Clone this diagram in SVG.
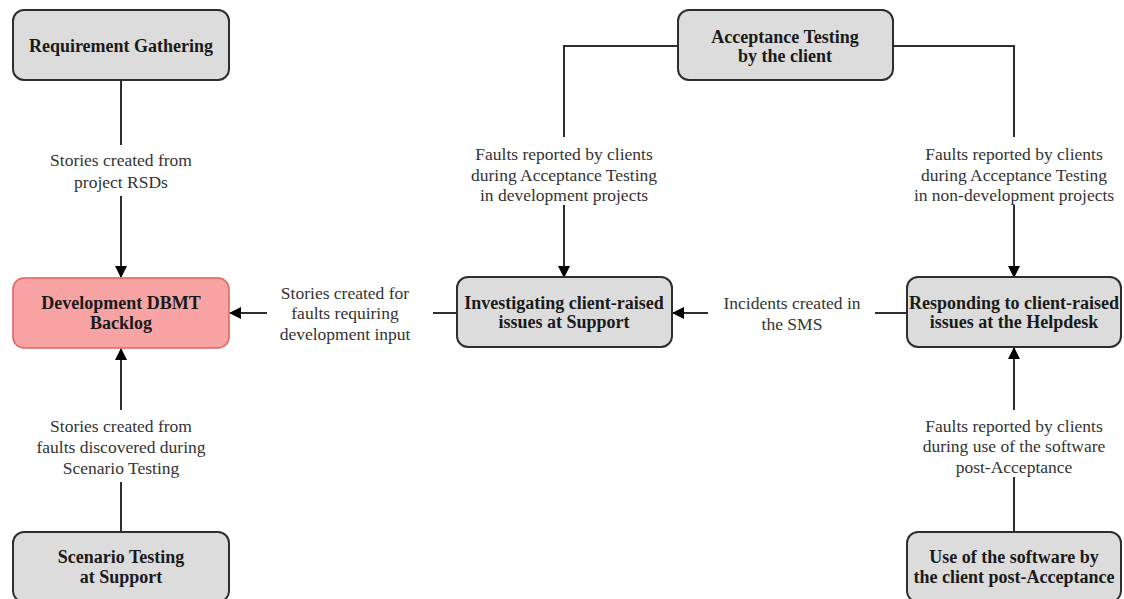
<svg xmlns="http://www.w3.org/2000/svg" width="1124" height="599" viewBox="0 0 1124 599">
<defs>
<marker id="arr" viewBox="0 0 12 12" refX="11" refY="6" markerWidth="12" markerHeight="12" markerUnits="userSpaceOnUse" orient="auto">
<path d="M0,0 L12,6 L0,12 Z" fill="#000"/>
</marker>
<style>
.box{fill:#dcdcdc;stroke:#2e2e2e;stroke-width:2}
.red{fill:#f7a3a3;stroke:#e06262;stroke-width:1.5}
.nt{font-family:"Liberation Serif",serif;font-weight:bold;font-size:18px;fill:#1a1a1a;text-anchor:middle}
.lt{font-family:"Liberation Serif",serif;font-size:17.5px;fill:#333;text-anchor:middle}
.c{fill:none;stroke:#2e2e2e;stroke-width:2}
.ca{fill:none;stroke:#2e2e2e;stroke-width:2;marker-end:url(#arr)}
</style>
</defs>
<g id="connectors">
<path class="c" d="M121,81 V145"/>
<path class="ca" d="M121,196 V277"/>
<path class="c" d="M121,532 V482"/>
<path class="ca" d="M121,410 V349"/>
<path class="c" d="M457,313 H433"/>
<path class="ca" d="M267,313 H230"/>
<path class="c" d="M907,313 H875"/>
<path class="ca" d="M708,313 H673"/>
<path class="c" d="M678,46 H564 V137"/>
<path class="ca" d="M564,205 V277"/>
<path class="c" d="M893,46 H1014 V137"/>
<path class="ca" d="M1014,205 V277"/>
<path class="c" d="M1014,532 V477"/>
<path class="ca" d="M1014,410 V348"/>
</g>
<g id="lbl-rsd">
<text class="lt" x="121" y="166">Stories created from</text>
<text class="lt" x="121" y="188">project RSDs</text>
</g>
<g id="lbl-scen">
<text class="lt" x="121" y="432">Stories created from</text>
<text class="lt" x="121" y="453">faults discovered during</text>
<text class="lt" x="121" y="474">Scenario Testing</text>
</g>
<g id="lbl-dev">
<text class="lt" x="345" y="299">Stories created for</text>
<text class="lt" x="345" y="319">faults requiring</text>
<text class="lt" x="345" y="340">development input</text>
</g>
<g id="lbl-sms">
<text class="lt" x="792" y="309">Incidents created in</text>
<text class="lt" x="792" y="330">the SMS</text>
</g>
<g id="lbl-acc-dev">
<text class="lt" x="564" y="160">Faults reported by clients</text>
<text class="lt" x="564" y="181">during Acceptance Testing</text>
<text class="lt" x="564" y="201">in development projects</text>
</g>
<g id="lbl-acc-nondev">
<text class="lt" x="1014" y="160">Faults reported by clients</text>
<text class="lt" x="1014" y="181">during Acceptance Testing</text>
<text class="lt" x="1014" y="201">in non-development projects</text>
</g>
<g id="lbl-use">
<text class="lt" x="1014" y="432">Faults reported by clients</text>
<text class="lt" x="1014" y="452">during use of the software</text>
<text class="lt" x="1014" y="473">post-Acceptance</text>
</g>
<g id="n-req">
<rect class="box" x="13" y="10" width="216" height="70" rx="11"/>
<text class="nt" x="121" y="52">Requirement Gathering</text>
</g>
<g id="n-backlog">
<rect class="red" x="13" y="278" width="216" height="70" rx="11"/>
<text class="nt" x="121" y="309">Development DBMT</text>
<text class="nt" x="121" y="329">Backlog</text>
</g>
<g id="n-scen">
<rect class="box" x="13" y="532" width="216" height="70" rx="11"/>
<text class="nt" x="121" y="563">Scenario Testing</text>
<text class="nt" x="121" y="583">at Support</text>
</g>
<g id="n-acc">
<rect class="box" x="678" y="10" width="215" height="70" rx="11"/>
<text class="nt" x="785" y="43">Acceptance Testing</text>
<text class="nt" x="785" y="62">by the client</text>
</g>
<g id="n-inv">
<rect class="box" x="457" y="277" width="215" height="70" rx="11"/>
<text class="nt" x="564" y="309">Investigating client-raised</text>
<text class="nt" x="564" y="328">issues at Support</text>
</g>
<g id="n-resp">
<rect class="box" x="907" y="277" width="214" height="70" rx="11"/>
<text class="nt" x="1014" y="309">Responding to client-raised</text>
<text class="nt" x="1014" y="328">issues at the Helpdesk</text>
</g>
<g id="n-use">
<rect class="box" x="907" y="532" width="214" height="70" rx="11"/>
<text class="nt" x="1014" y="563">Use of the software by</text>
<text class="nt" x="1014" y="583">the client post-Acceptance</text>
</g>
</svg>
